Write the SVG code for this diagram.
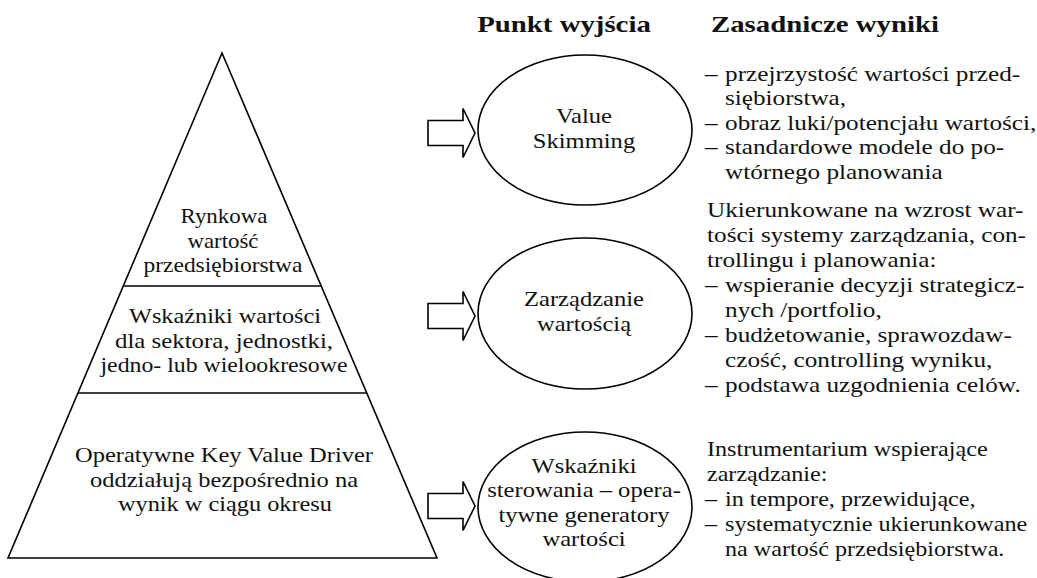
<svg xmlns="http://www.w3.org/2000/svg" width="1037" height="578" viewBox="0 0 1037 578">
<style>
  text { font-family: "Liberation Serif", "Times New Roman", Times, serif; font-size: 21px; fill: #111; }
  .c { text-anchor: middle; }
  .h { font-weight: bold; font-size: 24px; }
  .shape { fill: #fff; stroke: #000; stroke-width: 1.6; }
  .ln { stroke: #000; stroke-width: 1.6; fill: none; }
</style>
<defs>
  <path id="blockArrow" d="M0,-12.5 H35 V-24.5 L47,0 L35,24.5 V12.5 H0 Z" fill="#fff" stroke="#000" stroke-width="1.6" stroke-linejoin="miter"/>
</defs>
<rect width="1037" height="578" fill="#fff"/>

<g id="headings">
  <g transform="translate(564,0) scale(1.2,1)"><text class="h c" x="0" y="32">Punkt wyjścia</text></g>
  <g transform="translate(711,0) scale(1.2,1)"><text class="h" x="0" y="32">Zasadnicze wyniki</text></g>
</g>

<g id="pyramid">
  <polygon class="shape" points="222,53 437,558 8,558"/>
  <line class="ln" x1="123.3" y1="286" x2="321.2" y2="286"/>
  <line class="ln" x1="78" y1="393" x2="366.7" y2="393"/>
</g>
<g id="level-top">
  <text class="c" x="224" y="223" textLength="87" lengthAdjust="spacingAndGlyphs">Rynkowa</text>
  <text class="c" x="223" y="247.5" textLength="71" lengthAdjust="spacingAndGlyphs">wartość</text>
  <text class="c" x="223" y="272" textLength="159" lengthAdjust="spacingAndGlyphs">przedsiębiorstwa</text>
</g>
<g id="level-middle">
  <text class="c" x="225" y="323" textLength="192" lengthAdjust="spacingAndGlyphs">Wskaźniki wartości</text>
  <text class="c" x="224" y="347.5" textLength="218" lengthAdjust="spacingAndGlyphs">dla sektora, jednostki,</text>
  <text class="c" x="224" y="372" textLength="247" lengthAdjust="spacingAndGlyphs">jedno- lub wielookresowe</text>
</g>
<g id="level-bottom">
  <text class="c" x="224" y="462" textLength="298" lengthAdjust="spacingAndGlyphs">Operatywne Key Value Driver</text>
  <text class="c" x="224" y="486.5" textLength="268" lengthAdjust="spacingAndGlyphs">oddziałują bezpośrednio na</text>
  <text class="c" x="225" y="511" textLength="214" lengthAdjust="spacingAndGlyphs">wynik w ciągu okresu</text>
</g>

<g id="connectors">
  <use href="#blockArrow" x="428" y="133"/>
  <use href="#blockArrow" x="428" y="316"/>
  <use href="#blockArrow" x="428" y="506"/>
</g>

<g id="node-value-skimming">
  <ellipse class="shape" cx="585" cy="130" rx="107" ry="75"/>
  <g transform="translate(584,0) scale(1.17,1)">
    <text class="c" x="0" y="123">Value</text>
    <text class="c" x="0" y="148">Skimming</text>
  </g>
</g>
<g id="node-zarzadzanie">
  <ellipse class="shape" cx="585" cy="313.5" rx="107" ry="75.5"/>
  <g transform="translate(584,0) scale(1.17,1)">
    <text class="c" x="0" y="306">Zarządzanie</text>
    <text class="c" x="0" y="331">wartością</text>
  </g>
</g>
<g id="node-wskazniki">
  <ellipse class="shape" cx="585" cy="507" rx="107" ry="75"/>
  <g transform="translate(584,0) scale(1.17,1)">
    <text class="c" x="0" y="473">Wskaźniki</text>
    <text class="c" x="0" y="497.5">sterowania – opera-</text>
    <text class="c" x="0" y="522">tywne generatory</text>
    <text class="c" x="0" y="546.5">wartości</text>
  </g>
</g>

<g id="results-1" transform="translate(705,0) scale(1.2,1)">
  <text x="0" y="81">–</text><text x="16.7" y="81">przejrzystość wartości przed-</text>
  <text x="16.7" y="105.5">siębiorstwa,</text>
  <text x="0" y="130">–</text><text x="16.7" y="130">obraz luki/potencjału wartości,</text>
  <text x="0" y="154.5">–</text><text x="16.7" y="154.5">standardowe modele do po-</text>
  <text x="16.7" y="179">wtórnego planowania</text>
</g>
<g id="results-2" transform="translate(705,0) scale(1.2,1)">
  <text x="1.7" y="217">Ukierunkowane na wzrost war-</text>
  <text x="1.7" y="242">tości systemy zarządzania, con-</text>
  <text x="1.7" y="267">trollingu i planowania:</text>
  <text x="0" y="292">–</text><text x="16.7" y="292">wspieranie decyzji strategicz-</text>
  <text x="16.7" y="317">nych /portfolio,</text>
  <text x="0" y="342">–</text><text x="16.7" y="342">budżetowanie, sprawozdaw-</text>
  <text x="16.7" y="367">czość, controlling wyniku,</text>
  <text x="0" y="392">–</text><text x="16.7" y="392">podstawa uzgodnienia celów.</text>
</g>
<g id="results-3" transform="translate(705,0) scale(1.15,1)">
  <text x="1.7" y="456">Instrumentarium wspierające</text>
  <text x="1.7" y="481">zarządzanie:</text>
  <text x="0" y="506">–</text><text x="17.4" y="506">in tempore, przewidujące,</text>
  <text x="0" y="531">–</text><text x="17.4" y="531">systematycznie ukierunkowane</text>
  <text x="17.4" y="556">na wartość przedsiębiorstwa.</text>
</g>
</svg>
